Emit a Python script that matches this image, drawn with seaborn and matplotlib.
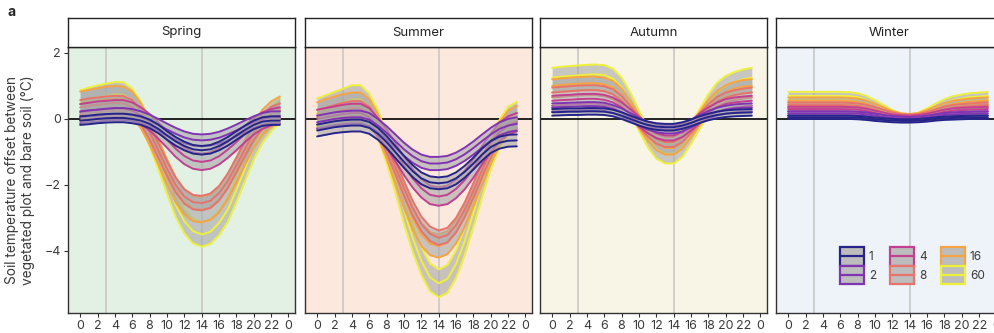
import pandas as pd
import seaborn as sns
import matplotlib.pyplot as plt
from matplotlib.patches import Rectangle
from matplotlib.lines import Line2D
from matplotlib.legend_handler import HandlerBase

hours = list(range(24))
richness = [1, 2, 4, 8, 16, 60]
colors = ["#26248a", "#8034b4", "#c2408f", "#e8736c", "#f6a443", "#eef03a"]
seasons = ["Spring", "Summer", "Autumn", "Winter"]
panel_bg = ["#e3f0e4", "#fce8dd", "#f8f4e6", "#eef2f9"]

spring = {
    1: [-0.05, -0.03, 0.0, 0.02, 0.03, 0.03, 0.0, -0.05, -0.15, -0.3, -0.5, -0.68,
        -0.82, -0.92, -0.95, -0.92, -0.82, -0.68, -0.5, -0.33, -0.18, -0.08, -0.05, -0.05],
    2: [0.05, 0.08, 0.1, 0.13, 0.15, 0.15, 0.12, 0.05, -0.05, -0.18, -0.32, -0.45,
        -0.56, -0.63, -0.65, -0.63, -0.57, -0.47, -0.35, -0.22, -0.1, 0.0, 0.05, 0.05],
    4: [0.2, 0.24, 0.28, 0.3, 0.32, 0.32, 0.25, 0.1, -0.1, -0.35, -0.62, -0.9,
        -1.12, -1.26, -1.3, -1.26, -1.13, -0.93, -0.7, -0.45, -0.22, -0.05, 0.05, 0.1],
    8: [0.35, 0.4, 0.43, 0.46, 0.48, 0.47, 0.35, 0.05, -0.4, -0.95, -1.5, -2.0,
        -2.35, -2.52, -2.55, -2.48, -2.25, -1.88, -1.4, -0.9, -0.42, -0.08, 0.15, 0.25],
    16: [0.45, 0.5, 0.55, 0.6, 0.62, 0.6, 0.45, 0.1, -0.4, -1.0, -1.6, -2.15,
         -2.52, -2.72, -2.75, -2.68, -2.45, -2.05, -1.55, -1.0, -0.5, -0.1, 0.15, 0.3],
    60: [0.5, 0.58, 0.65, 0.7, 0.75, 0.74, 0.55, 0.15, -0.45, -1.15, -1.9, -2.6,
         -3.1, -3.4, -3.5, -3.42, -3.15, -2.75, -2.15, -1.5, -0.85, -0.35, 0.0, 0.25],
}
summer = {
    1: [-0.35, -0.3, -0.25, -0.22, -0.2, -0.2, -0.27, -0.45, -0.7, -1.0, -1.3, -1.58,
        -1.8, -1.92, -1.95, -1.92, -1.8, -1.6, -1.35, -1.08, -0.85, -0.72, -0.66, -0.65],
    2: [-0.1, -0.05, 0.0, 0.03, 0.05, 0.05, -0.02, -0.2, -0.42, -0.67, -0.92, -1.13,
        -1.28, -1.35, -1.35, -1.32, -1.22, -1.07, -0.88, -0.67, -0.47, -0.3, -0.2, -0.15],
    4: [0.0, 0.05, 0.1, 0.15, 0.18, 0.18, 0.05, -0.25, -0.6, -1.0, -1.42, -1.8,
        -2.1, -2.3, -2.35, -2.3, -2.12, -1.85, -1.5, -1.1, -0.72, -0.4, -0.2, -0.1],
    8: [0.05, 0.12, 0.2, 0.27, 0.32, 0.32, 0.15, -0.25, -0.8, -1.45, -2.1, -2.7,
        -3.18, -3.48, -3.6, -3.52, -3.22, -2.75, -2.17, -1.55, -0.95, -0.45, -0.15, -0.05],
    16: [0.15, 0.25, 0.33, 0.4, 0.45, 0.45, 0.25, -0.2, -0.85, -1.6, -2.35, -3.0,
         -3.5, -3.78, -3.85, -3.75, -3.42, -2.92, -2.3, -1.65, -1.0, -0.45, -0.1, 0.05],
    60: [0.2, 0.3, 0.4, 0.5, 0.6, 0.6, 0.35, -0.15, -0.9, -1.8, -2.75, -3.6,
         -4.3, -4.8, -4.98, -4.85, -4.4, -3.7, -2.85, -1.95, -1.1, -0.45, -0.05, 0.1],
}
autumn = {
    1: [0.2, 0.21, 0.22, 0.22, 0.23, 0.23, 0.22, 0.18, 0.1, 0.0, -0.1, -0.18,
        -0.23, -0.25, -0.25, -0.2, -0.12, -0.02, 0.06, 0.12, 0.16, 0.18, 0.19, 0.2],
    2: [0.35, 0.36, 0.37, 0.38, 0.39, 0.39, 0.37, 0.3, 0.2, 0.06, -0.08, -0.2,
        -0.28, -0.32, -0.32, -0.26, -0.14, 0.0, 0.12, 0.22, 0.28, 0.32, 0.34, 0.35],
    4: [0.55, 0.57, 0.58, 0.6, 0.61, 0.61, 0.58, 0.5, 0.35, 0.15, -0.08, -0.28,
        -0.43, -0.5, -0.5, -0.4, -0.2, 0.02, 0.2, 0.35, 0.45, 0.5, 0.53, 0.55],
    8: [0.8, 0.82, 0.84, 0.86, 0.87, 0.87, 0.84, 0.75, 0.55, 0.25, -0.08, -0.38,
        -0.6, -0.7, -0.7, -0.55, -0.28, 0.02, 0.3, 0.52, 0.65, 0.72, 0.77, 0.8],
    16: [1.0, 1.03, 1.05, 1.07, 1.08, 1.08, 1.05, 0.95, 0.72, 0.35, -0.08, -0.45,
         -0.75, -0.88, -0.88, -0.7, -0.35, 0.02, 0.38, 0.65, 0.82, 0.92, 0.98, 1.0],
    60: [1.25, 1.28, 1.3, 1.32, 1.34, 1.35, 1.33, 1.22, 0.95, 0.5, -0.05, -0.55,
         -0.9, -1.05, -1.05, -0.85, -0.45, 0.0, 0.45, 0.8, 1.0, 1.12, 1.2, 1.25],
}
winter = {
    1: [0.05, 0.05, 0.05, 0.05, 0.05, 0.05, 0.05, 0.05, 0.04, 0.02, -0.01, -0.03,
        -0.05, -0.06, -0.06, -0.05, -0.03, 0.0, 0.02, 0.03, 0.04, 0.05, 0.05, 0.05],
    2: [0.17, 0.17, 0.17, 0.17, 0.17, 0.17, 0.17, 0.17, 0.16, 0.14, 0.1, 0.06,
        0.03, 0.01, 0.0, 0.01, 0.04, 0.08, 0.12, 0.14, 0.15, 0.16, 0.17, 0.17],
    4: [0.3, 0.3, 0.3, 0.3, 0.3, 0.3, 0.3, 0.29, 0.28, 0.24, 0.18, 0.12,
        0.07, 0.04, 0.03, 0.05, 0.09, 0.15, 0.21, 0.25, 0.27, 0.28, 0.29, 0.3],
    8: [0.42, 0.42, 0.42, 0.42, 0.42, 0.42, 0.42, 0.41, 0.39, 0.35, 0.28, 0.2,
        0.12, 0.07, 0.05, 0.07, 0.13, 0.21, 0.29, 0.34, 0.37, 0.39, 0.41, 0.42],
    16: [0.55, 0.55, 0.55, 0.55, 0.55, 0.55, 0.55, 0.54, 0.52, 0.46, 0.36, 0.25,
         0.14, 0.07, 0.05, 0.08, 0.17, 0.28, 0.38, 0.45, 0.49, 0.52, 0.54, 0.55],
    60: [0.7, 0.7, 0.7, 0.7, 0.7, 0.7, 0.7, 0.69, 0.66, 0.58, 0.45, 0.3,
         0.15, 0.05, 0.02, 0.07, 0.2, 0.35, 0.48, 0.57, 0.62, 0.66, 0.68, 0.7],
}
# half width of the uncertainty band, same order as richness
spring_hw = [0.13, 0.18, 0.25, 0.22, 0.38, 0.37]
summer_hw = [0.18, 0.2, 0.28, 0.22, 0.35, 0.42]
autumn_hw = [0.1, 0.12, 0.15, 0.15, 0.2, 0.3]
winter_hw = [0.05, 0.06, 0.07, 0.08, 0.1, 0.12]

season_data = [spring, summer, autumn, winter]
season_hw = [spring_hw, summer_hw, autumn_hw, winter_hw]


class RibbonKey(HandlerBase):
    # grey box with coloured outline and a coloured middle line
    def create_artists(self, legend, orig_handle, xdescent, ydescent,
                       width, height, fontsize, trans):
        c = orig_handle.get_color()
        box = Rectangle((-xdescent, -ydescent), width, height, facecolor="#bdbdbd",
                        edgecolor=c, lw=1.6, transform=trans)
        mid = Line2D([-xdescent, -xdescent + width],
                     [-ydescent + height / 2] * 2, color=c, lw=1.6, transform=trans)
        return [box, mid]


sns.set_theme(style="white")
plt.rcParams["font.family"] = ["Inter", "DejaVu Sans"]
text_col = "#3a3a3a"

W, H = 994, 333
fig = plt.figure(figsize=(W / 100, H / 100), dpi=100)
lefts = [68, 305, 540, 776]
pw = 227

for i, season in enumerate(seasons):
    ax = fig.add_axes([lefts[i] / W, 20 / H, pw / W, 266 / H])
    ax.set_facecolor(panel_bg[i])
    ax.axvline(3, color="#c8c8c8", lw=1.2, zorder=0.5)
    ax.axvline(14, color="#c8c8c8", lw=1.2, zorder=0.5)
    ax.axhline(0, color="black", lw=1.2, zorder=1)

    data = season_data[i]
    hw = season_hw[i]
    for j in range(len(richness) - 1, -1, -1):
        r = richness[j]
        mean = data[r]
        lo = [m - hw[j] for m in mean]
        hi = [m + hw[j] for m in mean]
        df = pd.DataFrame({
            "hour": hours * 3,
            "value": mean + lo + hi,
            "kind": ["mean"] * 24 + ["lo"] * 24 + ["hi"] * 24,
        })
        z = 2 + 2 * (len(richness) - 1 - j)
        ax.fill_between(hours, lo, hi, color="#a8a8a8", alpha=0.6, lw=0, zorder=z)
        sns.lineplot(data=df, x="hour", y="value", units="kind", estimator=None,
                     color=colors[j], lw=1.4, ax=ax, legend=False, zorder=z + 1)

    ax.set_xlim(-1.4, 24.75)
    ax.set_ylim(-5.88, 2.18)
    ax.set_xticks(range(0, 25, 2))
    ax.set_xticklabels([str(h % 24) for h in range(0, 25, 2)])
    ax.set_yticks([-4, -2, 0, 2])
    ax.set_xlabel("")
    ax.set_ylabel("")
    for s in ax.spines.values():
        s.set_color("#333333")
        s.set_linewidth(1.0)
    ax.tick_params(direction="out", length=3, width=0.8, color="#333333",
                   labelsize=9, pad=2, labelcolor=text_col, bottom=True, left=True)
    if i == 0:
        ax.set_ylabel("Soil temperature offset between\nvegetated plot and bare soil (°C)",
                      fontsize=9.8, color=text_col, labelpad=7, linespacing=1.15)
    else:
        ax.tick_params(left=False, labelleft=False)

    if i == 3:
        handles = [Line2D([], [], color=c) for c in colors]
        ax.legend(handles, [str(r) for r in richness], ncol=3, frameon=False,
                  loc="lower left", bbox_to_anchor=(0.282, 0.109), borderpad=0,
                  borderaxespad=0, handlelength=2.03, handleheight=2.03,
                  labelspacing=0, columnspacing=1.2, handletextpad=0.42,
                  fontsize=8.5, labelcolor=text_col,
                  handler_map={Line2D: RibbonKey()})

    sax = fig.add_axes([lefts[i] / W, 286 / H, pw / W, 29 / H])
    sax.set_facecolor("white")
    sax.set_xticks([])
    sax.set_yticks([])
    for s in sax.spines.values():
        s.set_color("#222222")
        s.set_linewidth(1.0)
    sax.text(0.5, 0.5, season, ha="center", va="center", fontsize=9.5,
             color="#222222", transform=sax.transAxes)

fig.text(8 / W, 1 - 12 / H, "a", fontsize=10, fontweight="bold", va="center")
fig.savefig("out.png", dpi=100)
